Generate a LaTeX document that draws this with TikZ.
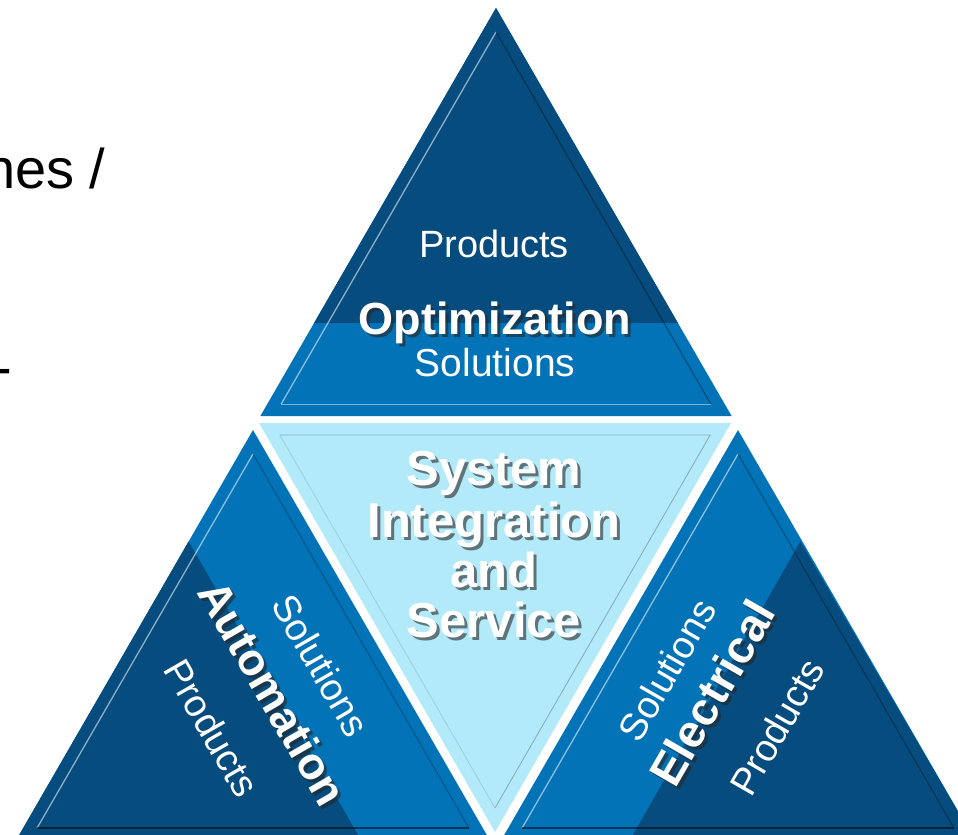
\documentclass[tikz,border=0pt]{standalone}
\usepackage{fontspec}
\setmainfont{Liberation Sans}
\usetikzlibrary{calc}
\definecolor{dkblue}{RGB}{6,76,126}
\definecolor{mdblue}{RGB}{3,115,184}
\definecolor{ltblue}{RGB}{178,234,250}
\definecolor{edgegray}{RGB}{120,150,165}
\tikzset{
  lightedge/.style={draw=white, draw opacity=0.55, line width=1.3bp},
  darkedge/.style={draw=black, draw opacity=0.35, line width=1.1bp},
  grayedge/.style={draw=edgegray, draw opacity=0.7, line width=0.9bp},
  thinlbl/.style={text=white, inner sep=0pt, font=\fontsize{38bp}{40bp}\selectfont},
  boldlbl/.style={text=white, inner sep=0pt, font=\fontsize{45bp}{47bp}\selectfont\bfseries},
  centlbl/.style={text=white, inner sep=0pt, anchor=base, font=\fontsize{49bp}{50bp}\selectfont\bfseries},
  shadowlbl/.style={text=black!85, text opacity=0.6},
  sidelbl/.style={text=black, inner sep=0pt, anchor=base west, font=\fontsize{56bp}{60bp}\selectfont}
}
\newcommand\shlabel[4]{%
  \node[#3, shadowlbl] (#1s) at ($(#2)+(3,3)$) {#4};
  \node[#3] (#1) at (#2) {#4};}
\begin{document}
\begin{tikzpicture}[x=1bp,y=-1bp]
\useasboundingbox (0,0) rectangle (958,835);
\clip (0,0) rectangle (958,835);
\fill[white] (0,0) rectangle (958,835);

% ---- top triangle
\fill[mdblue] (496,8) -- (260.4,416) -- (731.6,416) -- cycle;
\fill[dkblue] (496,8) -- (314.1,323) -- (677.9,323) -- cycle;
\draw[lightedge] (281.2,404) -- (496,32);
\draw[darkedge] (496,32) -- (710.8,404);
\draw[grayedge, draw=white, draw opacity=0.45] (281.2,404) -- (710.8,404);

% ---- central triangle
\fill[ltblue] (259,423) -- (731,423) -- (495,832) -- cycle;
\draw[grayedge] (279.8,435) -- (710.2,435) -- (495,808);
\draw[grayedge, draw opacity=0.3] (495,808) -- (279.8,435);

% ---- bottom-left triangle
\fill[mdblue] (253,430) -- (16.3,840) -- (489.7,840) -- cycle;
\fill[dkblue] (188.6,541.5) -- (16.3,840) -- (361,840) -- cycle;
\draw[lightedge] (37.1,828) -- (253,454);
\draw[darkedge, draw opacity=0.25] (253,454) -- (468.9,828);
\draw[darkedge, draw opacity=0.55] (37.1,828) -- (468.9,828);

% ---- bottom-right triangle
\fill[mdblue] (738,430) -- (501.3,840) -- (974.7,840) -- cycle;
\fill[dkblue] (800.3,541.5) -- (974.7,840) -- (630,840) -- cycle;
\draw[lightedge] (522.1,828) -- (738,454);
\draw[darkedge, draw opacity=0.3] (738,454) -- (953.9,828);
\draw[darkedge, draw opacity=0.55] (522.1,828) -- (953.9,828);

% ---- top labels
\node[thinlbl, anchor=base] (tprod) at (494,257) {Products};
\shlabel{topt}{495,334}{boldlbl, anchor=base}{Optimization}
\node[thinlbl, anchor=base, font=\fontsize{39bp}{41bp}\selectfont] (tsol) at (495,376) {Solutions};

% ---- central labels
\shlabel{c1}{494,485}{centlbl}{System}
\shlabel{c2}{494,537}{centlbl}{Integration}
\shlabel{c3}{494,587}{centlbl}{and}
\shlabel{c4}{494,637}{centlbl}{Service}

% ---- bottom-left labels
\node[thinlbl, rotate=-60] (lprod) at (212,728) {Products};
\shlabel{lauto}{273,693}{boldlbl, rotate=-60}{Automation}
\node[thinlbl, rotate=-60] (lsol) at (321,665) {Solutions};

% ---- bottom-right labels
\node[thinlbl, rotate=60] (rsol) at (667,670) {Solutions};
\shlabel{relec}{712,693}{boldlbl, rotate=60, font=\fontsize{46bp}{48bp}\selectfont\bfseries}{Electrical}
\node[thinlbl, rotate=60] (rprod) at (777,727) {Products};

% ---- cut-off side text
\node[sidelbl] (side1) at (-16,188) {nes /};
\node[sidelbl] (side2) at (-7,386) {-};
\end{tikzpicture}
\end{document}
